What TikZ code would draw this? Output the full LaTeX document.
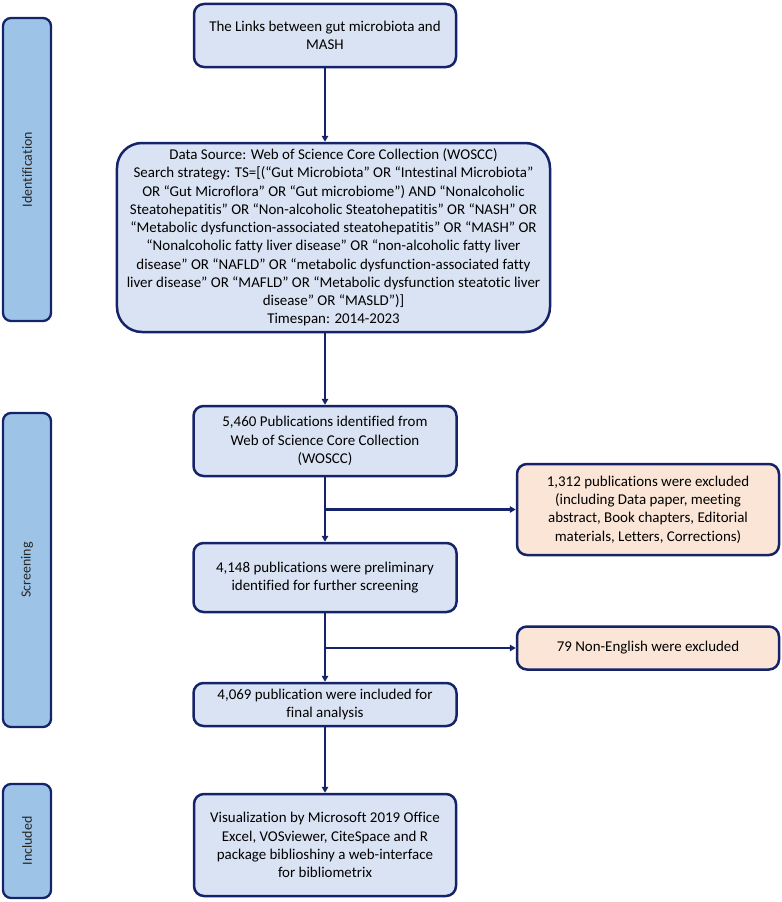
\documentclass[tikz,border=0pt]{standalone}
\usepackage{fontspec}
\setmainfont{Carlito}[Ligatures=NoCommon]
\usetikzlibrary{arrows.meta}
\definecolor{navy}{HTML}{15246A}
\definecolor{boxblue}{HTML}{DAE3F3}
\definecolor{barblue}{HTML}{9DC3E6}
\definecolor{exorange}{HTML}{FBE5D6}
\begin{document}
\begin{tikzpicture}[x=1bp,y=-1bp,
  box/.style={draw=navy, line width=2.5bp, fill=boxblue, rounded corners=10bp,
    align=center, inner sep=2bp, text=black,
    font=\fontsize{15}{18.3}\selectfont},
  exbox/.style={box, fill=exorange},
  bar/.style={draw=navy, line width=2.3bp, fill=barblue, rounded corners=8bp,
    rotate=90, minimum height=48bp, inner sep=0pt, text=black!85,
    font=\fontsize{14}{16}\selectfont},
  arr/.style={draw=navy, line width=2.2bp, -{Triangle[length=6bp,width=6.5bp]}}]
\useasboundingbox (0,0) rectangle (782,902);

% phase bars
\node[bar, minimum width=303bp] (idbar) at (27,169.5) {Identification};
\node[bar, minimum width=314bp] (scbar) at (27,570) {Screening};
\node[bar, minimum width=114bp] (inbar) at (27,841) {Included};

% main boxes
\node[box, minimum width=262bp, minimum height=63bp] (top) at (325,35.5)
  {The Links between gut microbiota and\\MASH};
\node[box, rounded corners=25bp, minimum width=433bp, minimum height=189bp] (search) at (333.5,237.5)
  {Data Source: Web of Science Core Collection (WOSCC)\\
   Search strategy: TS=[(“Gut Microbiota” OR “Intestinal Microbiota”\\
   OR “Gut Microflora” OR “Gut microbiome”) AND “Nonalcoholic\\
   Steatohepatitis” OR “Non-alcoholic Steatohepatitis” OR “NASH” OR\\
   “Metabolic dysfunction-associated steatohepatitis” OR “MASH” OR\\
   “Nonalcoholic fatty liver disease” OR “non-alcoholic fatty liver\\
   disease” OR “NAFLD” OR “metabolic dysfunction-associated fatty\\
   liver disease” OR “MAFLD” OR “Metabolic dysfunction steatotic liver\\
   disease” OR “MASLD”)]\\
   Timespan: 2014-2023};
\node[box, minimum width=263bp, minimum height=70bp] (n5460) at (325,441)
  {5,460 Publications identified from\\Web of Science Core Collection\\(WOSCC)};
\node[exbox, minimum width=262bp, minimum height=91bp] (ex1) at (648,509.5)
  {1,312 publications were excluded\\(including Data paper, meeting\\abstract, Book chapters, Editorial\\materials, Letters, Corrections)};
\node[box, minimum width=263bp, minimum height=69bp] (n4148) at (325,577.5)
  {4,148 publications were preliminary\\identified for further screening};
\node[exbox, minimum width=262bp, minimum height=43bp] (ex2) at (648,648)
  {79 Non-English were excluded};
\node[box, minimum width=263bp, minimum height=43bp] (n4069) at (325,704.5)
  {4,069 publication were included for\\final analysis};
\node[box, minimum width=262bp, minimum height=102bp] (final) at (325,845)
  {Visualization by Microsoft 2019 Office\\Excel, VOSviewer, CiteSpace and R\\package biblioshiny a web-interface\\for bibliometrix};

% connectors
\draw[arr] (top.south) -- (top.south |- search.north);
\draw[arr] (n5460.north |- search.south) -- (n5460.north);
\draw[arr] (n5460.south) -- (n4148.north);
\draw[arr] (n5460.south |- ex1.west) -- (ex1.west);
\draw[arr] (n4148.south) -- (n4069.north);
\draw[arr] (n4148.south |- ex2.west) -- (ex2.west);
\draw[arr] (n4069.south) -- (final.north);
\end{tikzpicture}
\end{document}
